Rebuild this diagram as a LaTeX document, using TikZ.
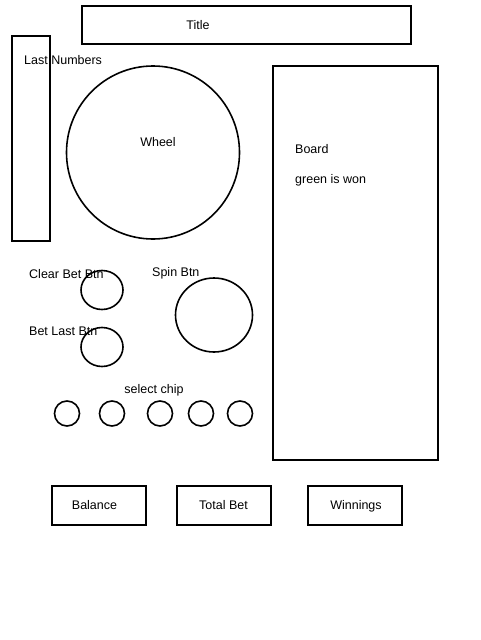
\documentclass[tikz,border=0pt]{standalone}
\usepackage{fontspec}
\setmainfont{Liberation Sans}
\usetikzlibrary{shapes.geometric}

\tikzset{
  outline/.style={draw, line width=1.6pt},
  lbl/.style={font=\fontsize{12.5}{15}\selectfont, inner sep=0pt, text height=9pt, text depth=2pt},
  chip/.style={outline, circle, minimum size=25pt, inner sep=0pt},
  infobox/.style={outline, rectangle, minimum width=94pt, minimum height=39pt, inner sep=0pt}
}

\begin{document}
\begin{tikzpicture}[x=1pt,y=-1pt]
        \useasboundingbox (0,0) rectangle (480,640);

        % Title bar
        \draw[outline] (82,6) rectangle (411,44);
        \node[lbl] (title) at (198,25.5) {Title};

        % Last numbers column
        \draw[outline] (12,36) rectangle (50,241);
        \node[lbl, anchor=west] (lastnum) at (24,60.5) {Last Numbers};

        % Wheel
        \draw[outline] (153,152.5) circle[radius=86.5];
        \node[lbl] (wheel) at (158,142.5) {Wheel};

        % Board
        \draw[outline] (273,66) rectangle (438,460);
        \node[lbl, anchor=west] (board) at (295,149.5) {Board};
        \node[lbl, anchor=west] (won) at (295,179.5) {green is won};

        % Buttons
        \draw[outline] (102,290) ellipse[x radius=21, y radius=19.5];
        \node[lbl, anchor=west] (clearbet) at (29,274.5) {Clear Bet Btn};
        \draw[outline] (102,347) ellipse[x radius=21, y radius=19.5];
        \node[lbl, anchor=west] (betlast) at (29,331.5) {Bet Last Btn};
        \draw[outline] (214,315) ellipse[x radius=38.5, y radius=37];
        \node[lbl, anchor=west] (spin) at (152,272.5) {Spin Btn};

        % Chips
        \node[lbl] (select) at (154,389.5) {select chip};
        \foreach \cx [count=\i] in {67,112,160,201,240}
          \node[chip] (chip\i) at (\cx,413.5) {};

        % Bottom info boxes
        \node[infobox] (balance) at (99,505.5) {};
        \node[lbl] at (94.5,505.5) {Balance};
        \node[infobox] (totalbet) at (224,505.5) {};
        \node[lbl] at (223.5,505.5) {Total Bet};
        \node[infobox] (winnings) at (355,505.5) {};
        \node[lbl] at (356,505.5) {Winnings};

    \end{tikzpicture}
\end{document}
